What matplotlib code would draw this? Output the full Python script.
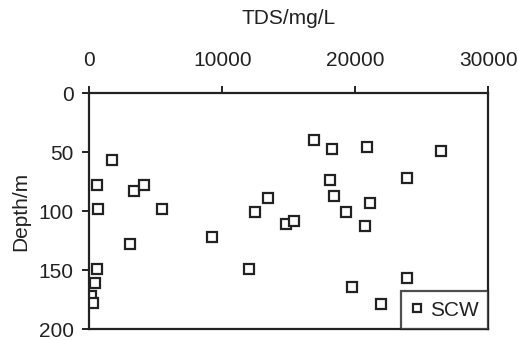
import matplotlib.pyplot as plt
import numpy as np

plt.rcParams['font.family'] = ['Liberation Sans', 'DejaVu Sans']

# SCW samples: TDS (mg/L) and depth (m)
tds = [1750, 575, 3375, 4150, 13450, 700, 5450,
       12450, 14825, 15400, 3075, 9200, 12000, 575, 450, 150, 275,
       16900, 18250, 20900, 26400, 18075, 23875, 18400, 21075,
       19275, 20750, 23875, 19750, 21950]
depth = [57, 78, 83, 78, 89, 98, 98,
         101, 111, 108, 128, 122, 149, 149, 161, 172, 178,
         40, 47, 46, 49, 74, 72, 87, 93,
         101, 113, 157, 164, 179]
xticks = [0, 10000, 20000, 30000]
yticks = [0, 50, 100, 150, 200]

fig = plt.figure(figsize=(5.18, 3.4), dpi=100)
ax = fig.add_axes([0.172, 0.032, 0.771, 0.694])
ax.plot(tds, depth, 's', mfc='white', mec='#222222', ms=7.5, mew=1.6,
        linestyle='none', label='SCW')
ax.set_xlim(0, 30000)
ax.set_ylim(200, 0)
ax.set_xticks(xticks)
ax.set_yticks(yticks)
ax.xaxis.tick_top()
ax.xaxis.set_label_position('top')
ax.tick_params(direction='out', length=5, width=1.4, color='#222222',
               labelsize=15, colors='#222222')
ax.tick_params(axis='x', pad=12)
ax.tick_params(axis='y', pad=6)
for s in ax.spines.values():
    s.set_linewidth(1.6)
    s.set_color('#222222')
ax.set_xlabel('TDS/mg/L', fontsize=15, labelpad=19, color='#222222')
ax.set_ylabel('Depth/m', fontsize=15, labelpad=6, color='#222222')

leg = ax.legend(loc='lower right', borderaxespad=0, fancybox=False,
                fontsize=15, handletextpad=0.35, handlelength=0.6,
                borderpad=0.45, markerscale=0.85)
leg.get_frame().set_edgecolor('#222222')
leg.get_frame().set_linewidth(1.6)
for t in leg.get_texts():
    t.set_color('#222222')

fig.savefig('out.png', dpi=100)
